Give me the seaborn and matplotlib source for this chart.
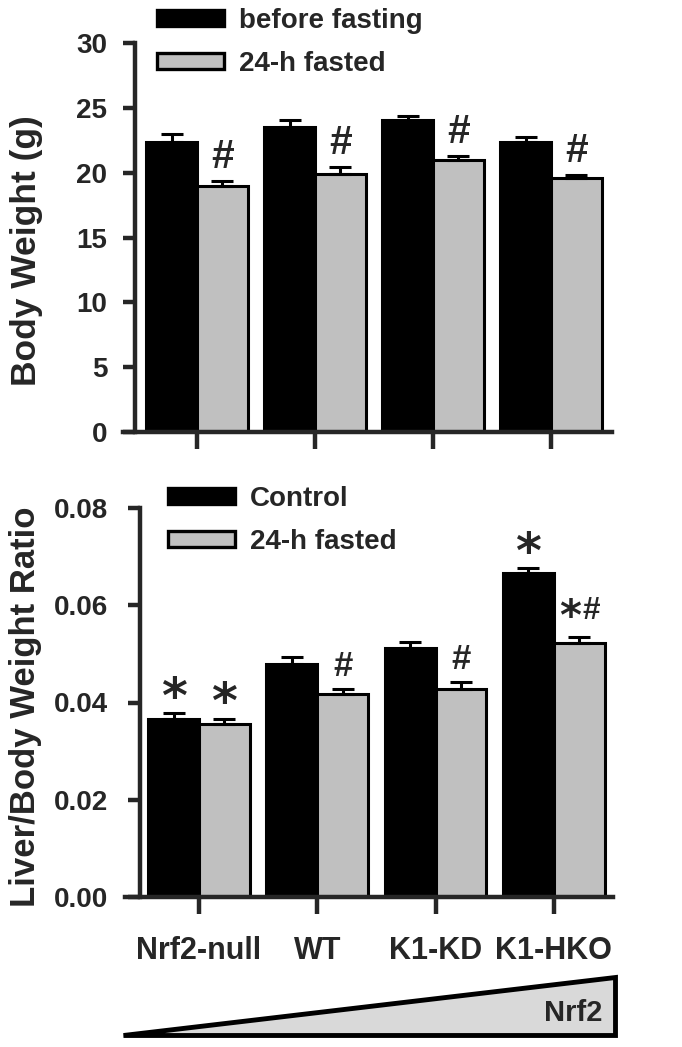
import numpy as np
import pandas as pd
import matplotlib
matplotlib.use("Agg")
import matplotlib.pyplot as plt
from matplotlib.patches import Patch, Polygon
from matplotlib.font_manager import FontProperties
from matplotlib.textpath import TextPath
import seaborn as sns

# ---- data ----
genotypes = ["Nrf2-null", "WT", "K1-KD", "K1-HKO"]

# body weight (g)
bw_before = [22.35, 23.55, 24.1, 22.4]
bw_before_err = [0.6, 0.5, 0.3, 0.37]
bw_fasted = [19.0, 19.9, 21.0, 19.6]
bw_fasted_err = [0.36, 0.54, 0.3, 0.2]
bw_marks_fasted = ["#", "#", "#", "#"]

# liver / body weight ratio
lr_control = [0.0366, 0.0480, 0.0513, 0.0666]
lr_control_err = [0.0013, 0.0013, 0.0011, 0.0011]
lr_fasted = [0.0355, 0.0417, 0.0428, 0.0522]
lr_fasted_err = [0.0012, 0.0011, 0.0014, 0.0013]
lr_marks_control = ["*", "", "", "*"]
lr_marks_fasted = ["*", "#", "#", "*#"]

BLACK = "#000000"
GREY = "#c0c0c0"
HASH = ["Liberation Sans Narrow", "Liberation Sans"]
STAR = ["DejaVu Sans"]

sns.set_theme(style="ticks")
plt.rcParams["font.family"] = ["Liberation Sans", "DejaVu Sans"]
plt.rcParams["font.weight"] = "bold"
plt.rcParams["axes.labelweight"] = "bold"

W, H = 682, 1047
fig = plt.figure(figsize=(W / 100, H / 100), dpi=100)


def bar_panel(ax, labels, v1, e1, v2, e2):
    df = pd.DataFrame({
        "genotype": genotypes * 2,
        "group": [labels[0]] * 4 + [labels[1]] * 4,
        "value": v1 + v2,
    })
    sns.barplot(data=df, x="genotype", y="value", hue="group",
                palette=[BLACK, GREY], saturation=1, width=0.86,
                edgecolor="black", linewidth=2.2, errorbar=None,
                legend=False, ax=ax)
    for cont, vals, errs in zip(ax.containers, [v1, v2], [e1, e2]):
        xs = [b.get_x() + b.get_width() / 2 for b in cont.patches]
        ax.errorbar(xs, vals, yerr=[np.zeros(4), errs], fmt="none",
                    ecolor="black", elinewidth=2.2, capsize=8, capthick=2.2,
                    zorder=5)
    sns.despine(ax=ax)
    for s in ["left", "bottom"]:
        ax.spines[s].set_linewidth(3.2)
    return [Patch(facecolor=BLACK, edgecolor="black", linewidth=2.4),
            Patch(facecolor=GREY, edgecolor="black", linewidth=2.4)]


def put(ax, s, x, y, h_pt, gap_pt, family, ha="center", dx=0):
    # size the symbol by its ink height and sit its ink gap_pt above y
    fp = FontProperties(family=family, weight="bold")
    ext = TextPath((0, 0), s, size=100, prop=fp).get_extents()
    fs = h_pt * 100 / ext.height
    dy = gap_pt - ext.y0 * fs / 100
    fp.set_size(fs)
    ax.annotate(s, (x, y), xytext=(dx, dy), textcoords="offset points",
                ha=ha, va="baseline", fontproperties=fp)


def mark(ax, cont, tops, marks, hash_h, star_h, gap):
    for b, top, m in zip(cont.patches, tops, marks):
        x = b.get_x() + b.get_width() / 2
        if m == "#":
            put(ax, "#", x, top, hash_h, gap, HASH)
        elif m == "*":
            put(ax, "*", x, top, star_h, gap + 0.6, STAR)
        elif m == "*#":
            put(ax, "*", x, top, 14.0, 13.3, STAR, ha="right", dx=1)
            put(ax, "#", x, top, 15.5, 12.8, HASH, ha="left", dx=2)


# ---- top: body weight ----
ax1 = fig.add_axes([123 / W, 1 - 432 / H, 489 / W, 389 / H])
h1 = bar_panel(ax1, ["before fasting", "24-h fasted"],
               bw_before, bw_before_err, bw_fasted, bw_fasted_err)
ax1.set_xlim(-0.627, 3.517)
ax1.spines["left"].set_position(("data", -0.525))
ax1.set_ylim(0, 30)
ax1.set_yticks(range(0, 31, 5))
ax1.set_xticks(range(4))
ax1.set_xticklabels([])
ax1.set_xlabel("")
ax1.set_ylabel("Body Weight (g)", fontsize=25.5)
ax1.yaxis.set_label_coords(-0.164, 0.465)
ax1.tick_params(axis="y", length=9, width=3.2, pad=11, labelsize=20)
ax1.tick_params(axis="x", length=12, width=3.2)
mark(ax1, ax1.containers[1], np.add(bw_fasted, bw_fasted_err),
     bw_marks_fasted, 20, 16.5, 9.4)
ax1.legend(h1, ["before fasting", "24-h fasted"], loc="upper left",
           bbox_to_anchor=(157 / W, 1 - 8 / H), bbox_transform=fig.transFigure,
           frameon=False, prop={"size": 20, "weight": "bold"},
           handlelength=2.4, handleheight=0.5, handletextpad=0.55,
           labelspacing=0.6, borderpad=0, borderaxespad=0)

# ---- bottom: liver/body weight ratio ----
ax2 = fig.add_axes([125 / W, 1 - 897 / H, 488 / W, 389 / H])
h2 = bar_panel(ax2, ["Control", "24-h fasted"],
               lr_control, lr_control_err, lr_fasted, lr_fasted_err)
ax2.set_xlim(-0.625, 3.5)
ax2.spines["left"].set_position(("data", -0.5))
ax2.set_ylim(0, 0.08)
ax2.set_yticks([0, 0.02, 0.04, 0.06, 0.08])
ax2.set_yticklabels(["0.00", "0.02", "0.04", "0.06", "0.08"])
ax2.set_xticks(range(4))
ax2.set_xticklabels(genotypes)
ax2.set_xlabel("")
ax2.set_ylabel("Liver/Body Weight Ratio", fontsize=25)
ax2.yaxis.set_label_coords(-0.170, 0.49)
ax2.tick_params(axis="y", length=9, width=3.2, pad=14, labelsize=20)
ax2.tick_params(axis="x", length=12, width=3.2, pad=16, labelsize=22)
mark(ax2, ax2.containers[0], np.add(lr_control, lr_control_err),
     lr_marks_control, 17, 16.5, 9.4)
mark(ax2, ax2.containers[1], np.add(lr_fasted, lr_fasted_err),
     lr_marks_fasted, 17, 16.5, 9.4)
ax2.legend(h2, ["Control", "24-h fasted"], loc="upper left",
           bbox_to_anchor=(168 / W, 1 - 486 / H), bbox_transform=fig.transFigure,
           frameon=False, prop={"size": 20, "weight": "bold"},
           handlelength=2.4, handleheight=0.5, handletextpad=0.55,
           labelspacing=0.6, borderpad=0, borderaxespad=0)

# ---- Nrf2 wedge ----
ax3 = fig.add_axes([123 / W, 1 - 1035 / H, 492 / W, 58 / H])
ax3.set_xlim(0, 1)
ax3.set_ylim(0, 1)
ax3.axis("off")
ax3.add_patch(Polygon([[0, 0], [1, 0], [1, 1]], closed=True,
                      facecolor="#d9d9d9", edgecolor="black", linewidth=3.5,
                      joinstyle="miter", clip_on=False))
ax3.text(0.915, 0.38, "Nrf2", ha="center", va="center", fontsize=21,
         fontweight="bold")

fig.savefig("out.png", dpi=100)
